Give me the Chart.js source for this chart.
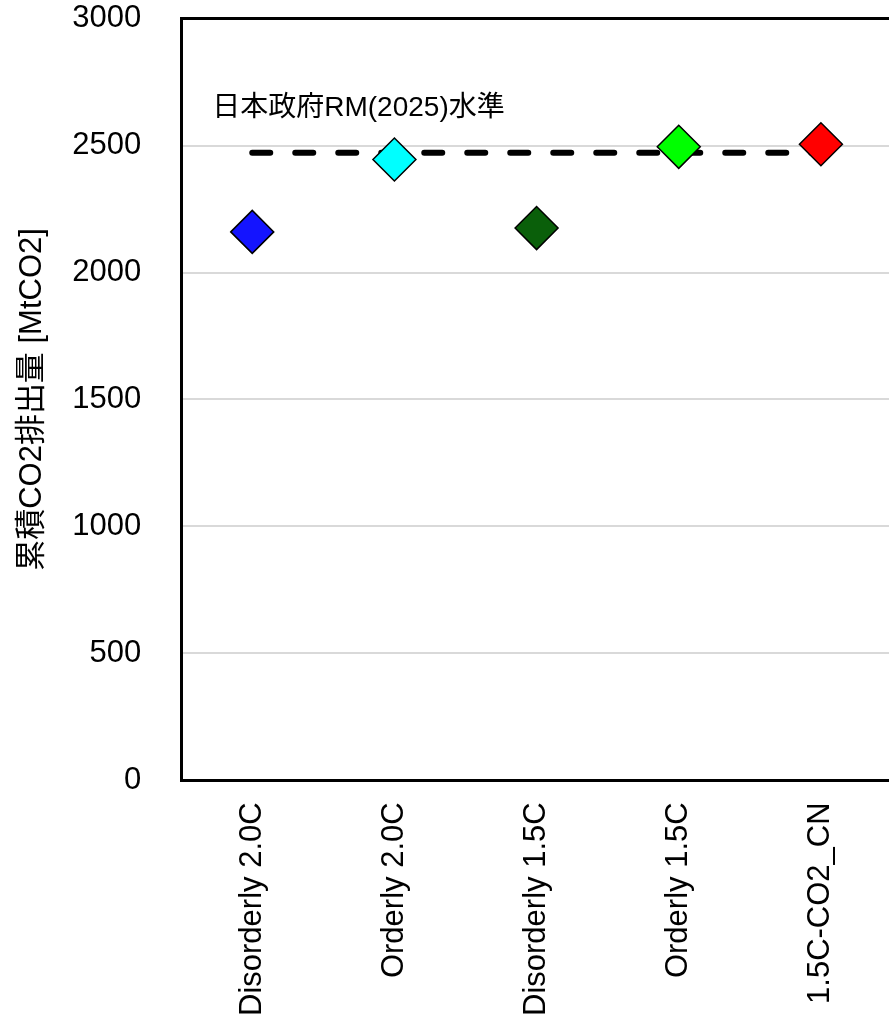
<!DOCTYPE html>
<html>
<head>
<meta charset="utf-8">
<script src="https://cdn.jsdelivr.net/npm/chart.js@4"></script>
<style>
  body { margin: 0; overflow: hidden; background: #fff; }
</style>
</head>
<body>
<canvas id="co2Chart" width="892" height="1032"></canvas>
<script>
// scenarios and cumulative CO2 emissions
const scenarios = ["Disorderly 2.0C", "Orderly 2.0C", "Disorderly 1.5C", "Orderly 1.5C", "1.5C-CO2_CN"];
const emissions = [2160, 2445, 2175, 2495, 2505];
const markerColors = ["#1414ff", "#00ffff", "#0a5f0a", "#00ff00", "#ff0000"];
const govLevel = 2472; // 日本政府RM(2025)水準
const govLabel = "日本政府RM(2025)水準";
const yTicks = [0, 500, 1000, 1500, 2000, 2500, 3000];

const fontFamily = '"Liberation Sans", "Noto Sans CJK JP", Arial, sans-serif';
const clear = "rgba(0,0,0,0)";

// writes the label above the dashed reference line
const govLabelPlugin = {
  id: "govLabel",
  afterDatasetsDraw(chart) {
    const ctx = chart.ctx;
    const x = chart.scales.x.getPixelForValue(0) - 40;
    const y = chart.scales.y.getPixelForValue(govLevel) - 44;
    ctx.save();
    ctx.font = "28px " + fontFamily;
    ctx.fillStyle = "#000";
    ctx.textAlign = "left";
    ctx.textBaseline = "middle";
    ctx.fillText(govLabel, x, y);
    ctx.restore();
  },
};

const ctx = document.getElementById("co2Chart").getContext("2d");
const config = {
  type: "line",
  data: {
    labels: scenarios,
    datasets: [
      {
        label: "scenarios",
        data: emissions,
        showLine: false,
        pointStyle: "rectRot",
        pointRadius: 21.5,
        pointHoverRadius: 21.5,
        pointBackgroundColor: markerColors,
        pointBorderColor: "#000",
        pointBorderWidth: 1.5,
        order: 0,
      },
      {
        label: govLabel,
        data: scenarios.map(() => govLevel),
        borderColor: "#000",
        borderWidth: 6,
        borderDash: [18, 25],
        borderCapStyle: "round",
        pointRadius: 0,
        tension: 0,
        order: 1,
      },
    ],
  },
  options: {
    responsive: false,
    animation: false,
    layout: {
      autoPadding: false,
      padding: { left: 14, right: 0, top: 0, bottom: 14 },
    },
    plugins: {
      legend: { display: false },
      tooltip: { enabled: false },
    },
    scales: {
      x: {
        offset: true,
        grid: { display: true, color: clear, drawTicks: true, tickLength: 20, tickColor: clear },
        border: { display: true, color: "#000", width: 3 },
        ticks: {
          color: "#000",
          font: { family: fontFamily, size: 31 },
          maxRotation: 90,
          minRotation: 90,
          padding: 2,
        },
      },
      y: {
        min: 0,
        max: 3000,
        afterBuildTicks: (axis) => {
          axis.ticks = yTicks.map((v) => ({ value: v }));
        },
        grid: {
          drawTicks: true,
          tickLength: 40,
          tickColor: clear,
          color: (c) => (c.tick && c.tick.value === 3000 ? "#000" : "#d9d9d9"),
          lineWidth: (c) => (c.tick && c.tick.value === 3000 ? 3 : 2),
        },
        border: { display: true, color: "#000", width: 3 },
        ticks: {
          color: "#000",
          font: { family: fontFamily, size: 31 },
          padding: 0,
          callback: (value) => String(value),
        },
        title: {
          display: true,
          text: "累積CO2排出量 [MtCO2]",
          color: "#000",
          font: { family: fontFamily, size: 31 },
          padding: { top: 0, bottom: 21 },
        },
      },
    },
  },
  plugins: [govLabelPlugin],
};

const co2Chart = new Chart(ctx, config);
</script>
</body>
</html>
